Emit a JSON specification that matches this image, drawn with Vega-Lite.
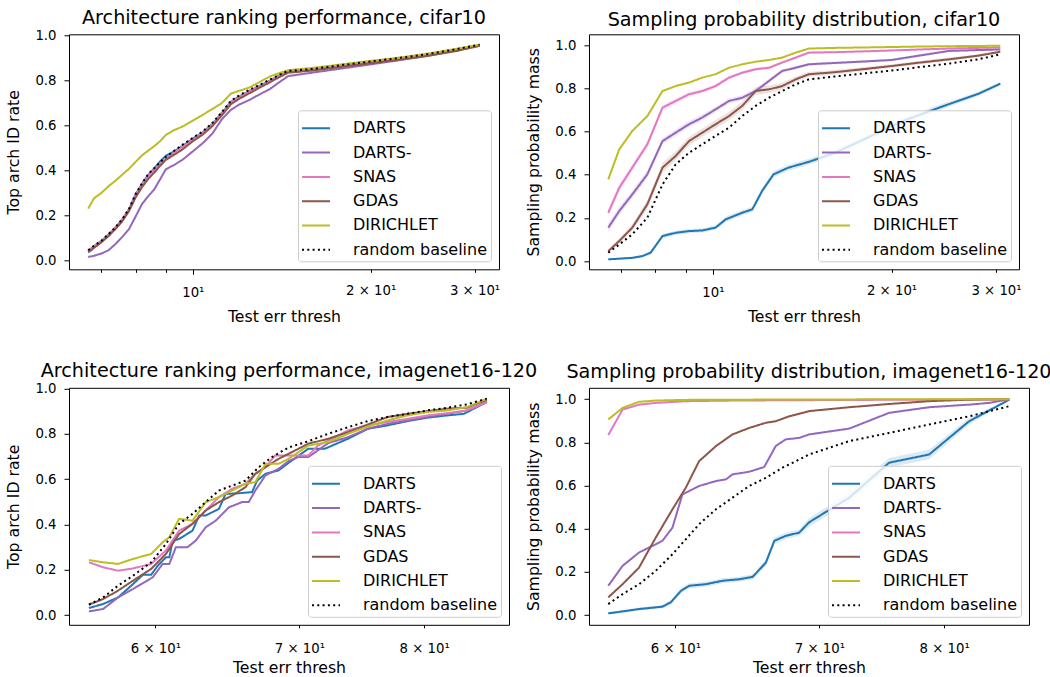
{
"$schema": "https://vega.github.io/schema/vega-lite/v6.json",
"padding": {"left": 5, "top": 8.3, "right": -2, "bottom": 0},
"background": "white",
"datasets": {
"tl": [
{"m":"DARTS","x":6.65,"y":0.042},{"m":"DARTS","x":6.8,"y":0.063},{"m":"DARTS","x":7.0,"y":0.086},{"m":"DARTS","x":7.2,"y":0.115},{"m":"DARTS","x":7.4,"y":0.146},{"m":"DARTS","x":7.6,"y":0.183},{"m":"DARTS","x":7.8,"y":0.228},{"m":"DARTS","x":8.0,"y":0.293},{"m":"DARTS","x":8.2,"y":0.34},{"m":"DARTS","x":8.4,"y":0.38},{"m":"DARTS","x":8.6,"y":0.408},{"m":"DARTS","x":8.8,"y":0.44},{"m":"DARTS","x":9.0,"y":0.465},{"m":"DARTS","x":9.3,"y":0.485},{"m":"DARTS","x":9.6,"y":0.508},{"m":"DARTS","x":10.0,"y":0.542},{"m":"DARTS","x":10.4,"y":0.57},{"m":"DARTS","x":10.8,"y":0.608},{"m":"DARTS","x":11.2,"y":0.656},{"m":"DARTS","x":11.6,"y":0.706},{"m":"DARTS","x":12.0,"y":0.73},{"m":"DARTS","x":12.5,"y":0.755},{"m":"DARTS","x":13.0,"y":0.778},{"m":"DARTS","x":13.5,"y":0.8},{"m":"DARTS","x":14.0,"y":0.822},{"m":"DARTS","x":14.5,"y":0.84},{"m":"DARTS","x":16,"y":0.85},{"m":"DARTS","x":18,"y":0.867},{"m":"DARTS","x":20,"y":0.882},{"m":"DARTS","x":22,"y":0.895},{"m":"DARTS","x":25,"y":0.915},{"m":"DARTS","x":28,"y":0.937},{"m":"DARTS","x":30.6,"y":0.958},
{"m":"DARTS-","x":6.65,"y":0.015},{"m":"DARTS-","x":6.8,"y":0.02},{"m":"DARTS-","x":7.0,"y":0.03},{"m":"DARTS-","x":7.2,"y":0.045},{"m":"DARTS-","x":7.4,"y":0.073},{"m":"DARTS-","x":7.6,"y":0.105},{"m":"DARTS-","x":7.8,"y":0.14},{"m":"DARTS-","x":8.0,"y":0.195},{"m":"DARTS-","x":8.2,"y":0.25},{"m":"DARTS-","x":8.4,"y":0.285},{"m":"DARTS-","x":8.6,"y":0.315},{"m":"DARTS-","x":8.8,"y":0.36},{"m":"DARTS-","x":9.0,"y":0.405},{"m":"DARTS-","x":9.3,"y":0.425},{"m":"DARTS-","x":9.6,"y":0.447},{"m":"DARTS-","x":10.0,"y":0.485},{"m":"DARTS-","x":10.4,"y":0.522},{"m":"DARTS-","x":10.8,"y":0.565},{"m":"DARTS-","x":11.2,"y":0.628},{"m":"DARTS-","x":11.6,"y":0.67},{"m":"DARTS-","x":12.0,"y":0.694},{"m":"DARTS-","x":12.5,"y":0.715},{"m":"DARTS-","x":13.0,"y":0.74},{"m":"DARTS-","x":13.5,"y":0.762},{"m":"DARTS-","x":14.0,"y":0.792},{"m":"DARTS-","x":14.5,"y":0.82},{"m":"DARTS-","x":16,"y":0.836},{"m":"DARTS-","x":18,"y":0.855},{"m":"DARTS-","x":20,"y":0.872},{"m":"DARTS-","x":22,"y":0.888},{"m":"DARTS-","x":25,"y":0.91},{"m":"DARTS-","x":28,"y":0.935},{"m":"DARTS-","x":30.6,"y":0.955},
{"m":"SNAS","x":6.65,"y":0.04},{"m":"SNAS","x":6.8,"y":0.062},{"m":"SNAS","x":7.0,"y":0.085},{"m":"SNAS","x":7.2,"y":0.113},{"m":"SNAS","x":7.4,"y":0.145},{"m":"SNAS","x":7.6,"y":0.182},{"m":"SNAS","x":7.8,"y":0.226},{"m":"SNAS","x":8.0,"y":0.29},{"m":"SNAS","x":8.2,"y":0.336},{"m":"SNAS","x":8.4,"y":0.375},{"m":"SNAS","x":8.6,"y":0.402},{"m":"SNAS","x":8.8,"y":0.428},{"m":"SNAS","x":9.0,"y":0.452},{"m":"SNAS","x":9.3,"y":0.48},{"m":"SNAS","x":9.6,"y":0.505},{"m":"SNAS","x":10.0,"y":0.538},{"m":"SNAS","x":10.4,"y":0.567},{"m":"SNAS","x":10.8,"y":0.605},{"m":"SNAS","x":11.2,"y":0.653},{"m":"SNAS","x":11.6,"y":0.703},{"m":"SNAS","x":12.0,"y":0.728},{"m":"SNAS","x":12.5,"y":0.753},{"m":"SNAS","x":13.0,"y":0.776},{"m":"SNAS","x":13.5,"y":0.798},{"m":"SNAS","x":14.0,"y":0.82},{"m":"SNAS","x":14.5,"y":0.838},{"m":"SNAS","x":16,"y":0.848},{"m":"SNAS","x":18,"y":0.865},{"m":"SNAS","x":20,"y":0.88},{"m":"SNAS","x":22,"y":0.893},{"m":"SNAS","x":25,"y":0.913},{"m":"SNAS","x":28,"y":0.935},{"m":"SNAS","x":30.6,"y":0.957},
{"m":"GDAS","x":6.65,"y":0.035},{"m":"GDAS","x":6.8,"y":0.055},{"m":"GDAS","x":7.0,"y":0.08},{"m":"GDAS","x":7.2,"y":0.108},{"m":"GDAS","x":7.4,"y":0.14},{"m":"GDAS","x":7.6,"y":0.175},{"m":"GDAS","x":7.8,"y":0.22},{"m":"GDAS","x":8.0,"y":0.28},{"m":"GDAS","x":8.2,"y":0.325},{"m":"GDAS","x":8.4,"y":0.362},{"m":"GDAS","x":8.6,"y":0.39},{"m":"GDAS","x":8.8,"y":0.42},{"m":"GDAS","x":9.0,"y":0.447},{"m":"GDAS","x":9.3,"y":0.47},{"m":"GDAS","x":9.6,"y":0.493},{"m":"GDAS","x":10.0,"y":0.53},{"m":"GDAS","x":10.4,"y":0.56},{"m":"GDAS","x":10.8,"y":0.598},{"m":"GDAS","x":11.2,"y":0.645},{"m":"GDAS","x":11.6,"y":0.695},{"m":"GDAS","x":12.0,"y":0.72},{"m":"GDAS","x":12.5,"y":0.745},{"m":"GDAS","x":13.0,"y":0.77},{"m":"GDAS","x":13.5,"y":0.792},{"m":"GDAS","x":14.0,"y":0.815},{"m":"GDAS","x":14.5,"y":0.835},{"m":"GDAS","x":16,"y":0.845},{"m":"GDAS","x":18,"y":0.862},{"m":"GDAS","x":20,"y":0.877},{"m":"GDAS","x":22,"y":0.89},{"m":"GDAS","x":25,"y":0.91},{"m":"GDAS","x":28,"y":0.932},{"m":"GDAS","x":30.6,"y":0.955},
{"m":"DIRICHLET","x":6.65,"y":0.23},{"m":"DIRICHLET","x":6.8,"y":0.276},{"m":"DIRICHLET","x":7.0,"y":0.3},{"m":"DIRICHLET","x":7.2,"y":0.33},{"m":"DIRICHLET","x":7.4,"y":0.355},{"m":"DIRICHLET","x":7.6,"y":0.382},{"m":"DIRICHLET","x":7.8,"y":0.408},{"m":"DIRICHLET","x":8.0,"y":0.438},{"m":"DIRICHLET","x":8.2,"y":0.467},{"m":"DIRICHLET","x":8.4,"y":0.488},{"m":"DIRICHLET","x":8.6,"y":0.508},{"m":"DIRICHLET","x":8.8,"y":0.53},{"m":"DIRICHLET","x":9.0,"y":0.558},{"m":"DIRICHLET","x":9.3,"y":0.58},{"m":"DIRICHLET","x":9.6,"y":0.595},{"m":"DIRICHLET","x":10.0,"y":0.622},{"m":"DIRICHLET","x":10.4,"y":0.648},{"m":"DIRICHLET","x":10.8,"y":0.674},{"m":"DIRICHLET","x":11.2,"y":0.7},{"m":"DIRICHLET","x":11.6,"y":0.742},{"m":"DIRICHLET","x":12.0,"y":0.755},{"m":"DIRICHLET","x":12.5,"y":0.77},{"m":"DIRICHLET","x":13.0,"y":0.795},{"m":"DIRICHLET","x":13.5,"y":0.818},{"m":"DIRICHLET","x":14.0,"y":0.833},{"m":"DIRICHLET","x":14.5,"y":0.846},{"m":"DIRICHLET","x":16,"y":0.857},{"m":"DIRICHLET","x":18,"y":0.873},{"m":"DIRICHLET","x":20,"y":0.888},{"m":"DIRICHLET","x":22,"y":0.9},{"m":"DIRICHLET","x":25,"y":0.92},{"m":"DIRICHLET","x":28,"y":0.942},{"m":"DIRICHLET","x":30.6,"y":0.96},
{"m":"random baseline","x":6.65,"y":0.045},{"m":"random baseline","x":6.8,"y":0.065},{"m":"random baseline","x":7.0,"y":0.087},{"m":"random baseline","x":7.2,"y":0.117},{"m":"random baseline","x":7.4,"y":0.148},{"m":"random baseline","x":7.6,"y":0.185},{"m":"random baseline","x":7.8,"y":0.23},{"m":"random baseline","x":8.0,"y":0.295},{"m":"random baseline","x":8.2,"y":0.342},{"m":"random baseline","x":8.4,"y":0.383},{"m":"random baseline","x":8.6,"y":0.41},{"m":"random baseline","x":8.8,"y":0.436},{"m":"random baseline","x":9.0,"y":0.46},{"m":"random baseline","x":9.3,"y":0.488},{"m":"random baseline","x":9.6,"y":0.514},{"m":"random baseline","x":10.0,"y":0.545},{"m":"random baseline","x":10.4,"y":0.574},{"m":"random baseline","x":10.8,"y":0.612},{"m":"random baseline","x":11.2,"y":0.66},{"m":"random baseline","x":11.6,"y":0.71},{"m":"random baseline","x":12.0,"y":0.735},{"m":"random baseline","x":12.5,"y":0.76},{"m":"random baseline","x":13.0,"y":0.782},{"m":"random baseline","x":13.5,"y":0.804},{"m":"random baseline","x":14.0,"y":0.825},{"m":"random baseline","x":14.5,"y":0.843},{"m":"random baseline","x":16,"y":0.852},{"m":"random baseline","x":18,"y":0.87},{"m":"random baseline","x":20,"y":0.885},{"m":"random baseline","x":22,"y":0.898},{"m":"random baseline","x":25,"y":0.918},{"m":"random baseline","x":28,"y":0.94},{"m":"random baseline","x":30.6,"y":0.96}
],
"tr": [
{"m":"DARTS","x":6.66,"y":0.008,"lo":0.004,"hi":0.012},{"m":"DARTS","x":7.31,"y":0.015,"lo":0.01,"hi":0.02},{"m":"DARTS","x":7.6,"y":0.023,"lo":0.017,"hi":0.029},{"m":"DARTS","x":7.85,"y":0.039,"lo":0.031,"hi":0.047},{"m":"DARTS","x":8.22,"y":0.116,"lo":0.106,"hi":0.126},{"m":"DARTS","x":8.65,"y":0.131,"lo":0.121,"hi":0.141},{"m":"DARTS","x":9.11,"y":0.139,"lo":0.129,"hi":0.149},{"m":"DARTS","x":9.59,"y":0.142,"lo":0.132,"hi":0.152},{"m":"DARTS","x":10.1,"y":0.155,"lo":0.145,"hi":0.165},{"m":"DARTS","x":10.5,"y":0.193,"lo":0.181,"hi":0.205},{"m":"DARTS","x":11.2,"y":0.224,"lo":0.212,"hi":0.236},{"m":"DARTS","x":11.65,"y":0.24,"lo":0.228,"hi":0.252},{"m":"DARTS","x":12.1,"y":0.325,"lo":0.311,"hi":0.339},{"m":"DARTS","x":12.65,"y":0.402,"lo":0.388,"hi":0.416},{"m":"DARTS","x":13.4,"y":0.433,"lo":0.419,"hi":0.447},{"m":"DARTS","x":14.51,"y":0.46,"lo":0.446,"hi":0.474},{"m":"DARTS","x":16,"y":0.5,"lo":0.486,"hi":0.514},{"m":"DARTS","x":18,"y":0.565,"lo":0.551,"hi":0.579},{"m":"DARTS","x":20.7,"y":0.645,"lo":0.631,"hi":0.659},{"m":"DARTS","x":24.5,"y":0.719,"lo":0.707,"hi":0.731},{"m":"DARTS","x":28,"y":0.775,"lo":0.765,"hi":0.785},{"m":"DARTS","x":30.5,"y":0.822,"lo":0.814,"hi":0.83},
{"m":"DARTS-","x":6.66,"y":0.155,"lo":0.135,"hi":0.175},{"m":"DARTS-","x":6.95,"y":0.232,"lo":0.212,"hi":0.252},{"m":"DARTS-","x":7.31,"y":0.309,"lo":0.291,"hi":0.327},{"m":"DARTS-","x":7.75,"y":0.402,"lo":0.384,"hi":0.42},{"m":"DARTS-","x":8.22,"y":0.556,"lo":0.541,"hi":0.571},{"m":"DARTS-","x":8.65,"y":0.595,"lo":0.58,"hi":0.61},{"m":"DARTS-","x":9.11,"y":0.634,"lo":0.619,"hi":0.649},{"m":"DARTS-","x":9.59,"y":0.665,"lo":0.65,"hi":0.68},{"m":"DARTS-","x":10.1,"y":0.703,"lo":0.691,"hi":0.715},{"m":"DARTS-","x":10.64,"y":0.742,"lo":0.73,"hi":0.754},{"m":"DARTS-","x":11.2,"y":0.757,"lo":0.745,"hi":0.769},{"m":"DARTS-","x":11.8,"y":0.788,"lo":0.776,"hi":0.8},{"m":"DARTS-","x":12.43,"y":0.835,"lo":0.825,"hi":0.845},{"m":"DARTS-","x":13.08,"y":0.881,"lo":0.873,"hi":0.889},{"m":"DARTS-","x":13.78,"y":0.896,"lo":0.888,"hi":0.904},{"m":"DARTS-","x":14.51,"y":0.912,"lo":0.906,"hi":0.918},{"m":"DARTS-","x":16,"y":0.918,"lo":0.912,"hi":0.924},{"m":"DARTS-","x":18,"y":0.925,"lo":0.919,"hi":0.931},{"m":"DARTS-","x":20,"y":0.932,"lo":0.926,"hi":0.938},{"m":"DARTS-","x":22,"y":0.95,"lo":0.944,"hi":0.956},{"m":"DARTS-","x":25,"y":0.974,"lo":0.969,"hi":0.979},{"m":"DARTS-","x":28,"y":0.978,"lo":0.973,"hi":0.983},{"m":"DARTS-","x":30.5,"y":0.981,"lo":0.976,"hi":0.986},
{"m":"SNAS","x":6.66,"y":0.224,"lo":0.204,"hi":0.244},{"m":"SNAS","x":6.95,"y":0.34,"lo":0.32,"hi":0.36},{"m":"SNAS","x":7.31,"y":0.433,"lo":0.415,"hi":0.451},{"m":"SNAS","x":7.75,"y":0.541,"lo":0.525,"hi":0.557},{"m":"SNAS","x":8.22,"y":0.711,"lo":0.697,"hi":0.725},{"m":"SNAS","x":8.65,"y":0.742,"lo":0.73,"hi":0.754},{"m":"SNAS","x":9.11,"y":0.773,"lo":0.761,"hi":0.785},{"m":"SNAS","x":9.59,"y":0.788,"lo":0.778,"hi":0.798},{"m":"SNAS","x":10.1,"y":0.811,"lo":0.801,"hi":0.821},{"m":"SNAS","x":10.64,"y":0.85,"lo":0.84,"hi":0.86},{"m":"SNAS","x":11.2,"y":0.873,"lo":0.865,"hi":0.881},{"m":"SNAS","x":11.8,"y":0.889,"lo":0.881,"hi":0.897},{"m":"SNAS","x":12.43,"y":0.896,"lo":0.888,"hi":0.904},{"m":"SNAS","x":13.08,"y":0.92,"lo":0.914,"hi":0.926},{"m":"SNAS","x":13.78,"y":0.943,"lo":0.937,"hi":0.949},{"m":"SNAS","x":14.51,"y":0.966,"lo":0.961,"hi":0.971},{"m":"SNAS","x":16,"y":0.968,"lo":0.964,"hi":0.972},{"m":"SNAS","x":18,"y":0.972,"lo":0.968,"hi":0.976},{"m":"SNAS","x":20,"y":0.976,"lo":0.972,"hi":0.98},{"m":"SNAS","x":22,"y":0.98,"lo":0.976,"hi":0.984},{"m":"SNAS","x":25,"y":0.985,"lo":0.981,"hi":0.989},{"m":"SNAS","x":28,"y":0.988,"lo":0.984,"hi":0.992},{"m":"SNAS","x":30.5,"y":0.99,"lo":0.987,"hi":0.993},
{"m":"GDAS","x":6.66,"y":0.046,"lo":0.038,"hi":0.054},{"m":"GDAS","x":6.95,"y":0.093,"lo":0.081,"hi":0.105},{"m":"GDAS","x":7.31,"y":0.155,"lo":0.139,"hi":0.171},{"m":"GDAS","x":7.75,"y":0.263,"lo":0.243,"hi":0.283},{"m":"GDAS","x":8.22,"y":0.433,"lo":0.411,"hi":0.455},{"m":"GDAS","x":8.65,"y":0.487,"lo":0.465,"hi":0.509},{"m":"GDAS","x":9.11,"y":0.556,"lo":0.536,"hi":0.576},{"m":"GDAS","x":9.59,"y":0.595,"lo":0.575,"hi":0.615},{"m":"GDAS","x":10.1,"y":0.634,"lo":0.614,"hi":0.654},{"m":"GDAS","x":10.64,"y":0.672,"lo":0.652,"hi":0.692},{"m":"GDAS","x":11.2,"y":0.719,"lo":0.699,"hi":0.739},{"m":"GDAS","x":11.8,"y":0.788,"lo":0.77,"hi":0.806},{"m":"GDAS","x":12.43,"y":0.796,"lo":0.778,"hi":0.814},{"m":"GDAS","x":13.08,"y":0.811,"lo":0.795,"hi":0.827},{"m":"GDAS","x":13.78,"y":0.842,"lo":0.828,"hi":0.856},{"m":"GDAS","x":14.51,"y":0.866,"lo":0.854,"hi":0.878},{"m":"GDAS","x":16,"y":0.875,"lo":0.865,"hi":0.885},{"m":"GDAS","x":18,"y":0.89,"lo":0.88,"hi":0.9},{"m":"GDAS","x":20,"y":0.904,"lo":0.896,"hi":0.912},{"m":"GDAS","x":22,"y":0.918,"lo":0.91,"hi":0.926},{"m":"GDAS","x":25,"y":0.935,"lo":0.927,"hi":0.943},{"m":"GDAS","x":28,"y":0.952,"lo":0.946,"hi":0.958},{"m":"GDAS","x":30.5,"y":0.97,"lo":0.965,"hi":0.975},
{"m":"DIRICHLET","x":6.66,"y":0.379},{"m":"DIRICHLET","x":6.95,"y":0.518},{"m":"DIRICHLET","x":7.31,"y":0.603},{"m":"DIRICHLET","x":7.75,"y":0.672},{"m":"DIRICHLET","x":8.22,"y":0.788},{"m":"DIRICHLET","x":8.65,"y":0.811},{"m":"DIRICHLET","x":9.11,"y":0.827},{"m":"DIRICHLET","x":9.59,"y":0.85},{"m":"DIRICHLET","x":10.1,"y":0.866},{"m":"DIRICHLET","x":10.64,"y":0.896},{"m":"DIRICHLET","x":11.2,"y":0.912},{"m":"DIRICHLET","x":11.8,"y":0.924},{"m":"DIRICHLET","x":12.43,"y":0.932},{"m":"DIRICHLET","x":13.08,"y":0.943},{"m":"DIRICHLET","x":13.78,"y":0.966},{"m":"DIRICHLET","x":14.51,"y":0.985},{"m":"DIRICHLET","x":16,"y":0.988},{"m":"DIRICHLET","x":18,"y":0.99},{"m":"DIRICHLET","x":20,"y":0.992},{"m":"DIRICHLET","x":22,"y":0.994},{"m":"DIRICHLET","x":25,"y":0.996},{"m":"DIRICHLET","x":28,"y":0.997},{"m":"DIRICHLET","x":30.5,"y":0.998},
{"m":"random baseline","x":6.66,"y":0.039},{"m":"random baseline","x":6.95,"y":0.077},{"m":"random baseline","x":7.31,"y":0.124},{"m":"random baseline","x":7.75,"y":0.201},{"m":"random baseline","x":8.22,"y":0.355},{"m":"random baseline","x":8.65,"y":0.448},{"m":"random baseline","x":9.11,"y":0.502},{"m":"random baseline","x":9.59,"y":0.541},{"m":"random baseline","x":10.1,"y":0.58},{"m":"random baseline","x":10.64,"y":0.618},{"m":"random baseline","x":11.2,"y":0.672},{"m":"random baseline","x":11.8,"y":0.719},{"m":"random baseline","x":12.43,"y":0.757},{"m":"random baseline","x":13.08,"y":0.788},{"m":"random baseline","x":13.78,"y":0.819},{"m":"random baseline","x":14.51,"y":0.842},{"m":"random baseline","x":16,"y":0.855},{"m":"random baseline","x":18,"y":0.87},{"m":"random baseline","x":20,"y":0.883},{"m":"random baseline","x":22,"y":0.897},{"m":"random baseline","x":25,"y":0.915},{"m":"random baseline","x":28,"y":0.935},{"m":"random baseline","x":30.5,"y":0.958}
],
"bl": [
{"m":"DARTS","x":55.88,"y":0.031},{"m":"DARTS","x":56.74,"y":0.049},{"m":"DARTS","x":57.65,"y":0.078},{"m":"DARTS","x":58.58,"y":0.137},{"m":"DARTS","x":59.2,"y":0.178},{"m":"DARTS","x":59.73,"y":0.178},{"m":"DARTS","x":60.15,"y":0.218},{"m":"DARTS","x":60.68,"y":0.255},{"m":"DARTS","x":60.9,"y":0.255},{"m":"DARTS","x":61.12,"y":0.329},{"m":"DARTS","x":61.54,"y":0.336},{"m":"DARTS","x":62.43,"y":0.373},{"m":"DARTS","x":62.88,"y":0.44},{"m":"DARTS","x":63.32,"y":0.44},{"m":"DARTS","x":64.22,"y":0.469},{"m":"DARTS","x":64.68,"y":0.535},{"m":"DARTS","x":65.6,"y":0.538},{"m":"DARTS","x":66.54,"y":0.543},{"m":"DARTS","x":66.9,"y":0.594},{"m":"DARTS","x":67.5,"y":0.624},{"m":"DARTS","x":68.45,"y":0.639},{"m":"DARTS","x":69.18,"y":0.672},{"m":"DARTS","x":70.67,"y":0.735},{"m":"DARTS","x":71.94,"y":0.735},{"m":"DARTS","x":73.74,"y":0.779},{"m":"DARTS","x":75.32,"y":0.823},{"m":"DARTS","x":76.93,"y":0.838},{"m":"DARTS","x":78.6,"y":0.857},{"m":"DARTS","x":80.28,"y":0.872},{"m":"DARTS","x":82.0,"y":0.882},{"m":"DARTS","x":83.47,"y":0.889},{"m":"DARTS","x":84.65,"y":0.919},{"m":"DARTS","x":85.55,"y":0.941},
{"m":"DARTS-","x":55.88,"y":0.016},{"m":"DARTS-","x":56.74,"y":0.027},{"m":"DARTS-","x":57.65,"y":0.078},{"m":"DARTS-","x":58.58,"y":0.115},{"m":"DARTS-","x":59.3,"y":0.145},{"m":"DARTS-","x":59.83,"y":0.167},{"m":"DARTS-","x":60.47,"y":0.226},{"m":"DARTS-","x":60.9,"y":0.226},{"m":"DARTS-","x":61.33,"y":0.3},{"m":"DARTS-","x":62.1,"y":0.3},{"m":"DARTS-","x":62.65,"y":0.329},{"m":"DARTS-","x":63.32,"y":0.388},{"m":"DARTS-","x":64.0,"y":0.417},{"m":"DARTS-","x":64.91,"y":0.476},{"m":"DARTS-","x":65.83,"y":0.499},{"m":"DARTS-","x":66.3,"y":0.499},{"m":"DARTS-","x":66.77,"y":0.55},{"m":"DARTS-","x":67.5,"y":0.617},{"m":"DARTS-","x":68.45,"y":0.646},{"m":"DARTS-","x":69.18,"y":0.68},{"m":"DARTS-","x":69.9,"y":0.698},{"m":"DARTS-","x":70.67,"y":0.698},{"m":"DARTS-","x":72.2,"y":0.76},{"m":"DARTS-","x":73.74,"y":0.786},{"m":"DARTS-","x":75.32,"y":0.823},{"m":"DARTS-","x":76.93,"y":0.845},{"m":"DARTS-","x":78.6,"y":0.86},{"m":"DARTS-","x":80.28,"y":0.875},{"m":"DARTS-","x":82.0,"y":0.889},{"m":"DARTS-","x":83.76,"y":0.904},{"m":"DARTS-","x":85.55,"y":0.941},
{"m":"SNAS","x":55.88,"y":0.233},{"m":"SNAS","x":56.74,"y":0.211},{"m":"SNAS","x":57.65,"y":0.196},{"m":"SNAS","x":58.58,"y":0.206},{"m":"SNAS","x":59.73,"y":0.226},{"m":"SNAS","x":60.68,"y":0.285},{"m":"SNAS","x":61.54,"y":0.373},{"m":"SNAS","x":62.43,"y":0.403},{"m":"SNAS","x":63.32,"y":0.462},{"m":"SNAS","x":64.22,"y":0.521},{"m":"SNAS","x":65.14,"y":0.558},{"m":"SNAS","x":66.07,"y":0.58},{"m":"SNAS","x":66.77,"y":0.624},{"m":"SNAS","x":67.5,"y":0.653},{"m":"SNAS","x":68.2,"y":0.705},{"m":"SNAS","x":69.18,"y":0.705},{"m":"SNAS","x":70.67,"y":0.705},{"m":"SNAS","x":71.4,"y":0.749},{"m":"SNAS","x":72.2,"y":0.771},{"m":"SNAS","x":73.74,"y":0.816},{"m":"SNAS","x":75.32,"y":0.838},{"m":"SNAS","x":76.93,"y":0.853},{"m":"SNAS","x":78.6,"y":0.867},{"m":"SNAS","x":80.28,"y":0.882},{"m":"SNAS","x":82.0,"y":0.892},{"m":"SNAS","x":83.76,"y":0.904},{"m":"SNAS","x":85.55,"y":0.941},
{"m":"GDAS","x":55.88,"y":0.046},{"m":"GDAS","x":56.74,"y":0.071},{"m":"GDAS","x":57.65,"y":0.108},{"m":"GDAS","x":58.58,"y":0.152},{"m":"GDAS","x":59.73,"y":0.204},{"m":"GDAS","x":60.68,"y":0.27},{"m":"GDAS","x":61.54,"y":0.358},{"m":"GDAS","x":62.43,"y":0.403},{"m":"GDAS","x":63.32,"y":0.462},{"m":"GDAS","x":64.22,"y":0.499},{"m":"GDAS","x":65.14,"y":0.528},{"m":"GDAS","x":66.07,"y":0.565},{"m":"GDAS","x":66.77,"y":0.624},{"m":"GDAS","x":67.5,"y":0.653},{"m":"GDAS","x":68.45,"y":0.69},{"m":"GDAS","x":69.18,"y":0.712},{"m":"GDAS","x":70.67,"y":0.757},{"m":"GDAS","x":72.2,"y":0.779},{"m":"GDAS","x":73.74,"y":0.808},{"m":"GDAS","x":75.32,"y":0.842},{"m":"GDAS","x":76.93,"y":0.875},{"m":"GDAS","x":78.6,"y":0.889},{"m":"GDAS","x":80.28,"y":0.901},{"m":"GDAS","x":82.0,"y":0.912},{"m":"GDAS","x":83.76,"y":0.916},{"m":"GDAS","x":85.55,"y":0.951},
{"m":"DIRICHLET","x":55.88,"y":0.243},{"m":"DIRICHLET","x":56.74,"y":0.233},{"m":"DIRICHLET","x":57.65,"y":0.226},{"m":"DIRICHLET","x":58.58,"y":0.248},{"m":"DIRICHLET","x":59.73,"y":0.27},{"m":"DIRICHLET","x":60.47,"y":0.322},{"m":"DIRICHLET","x":60.9,"y":0.344},{"m":"DIRICHLET","x":61.54,"y":0.425},{"m":"DIRICHLET","x":62.43,"y":0.417},{"m":"DIRICHLET","x":63.32,"y":0.499},{"m":"DIRICHLET","x":64.22,"y":0.521},{"m":"DIRICHLET","x":65.14,"y":0.55},{"m":"DIRICHLET","x":66.07,"y":0.58},{"m":"DIRICHLET","x":66.77,"y":0.587},{"m":"DIRICHLET","x":67.5,"y":0.668},{"m":"DIRICHLET","x":68.45,"y":0.668},{"m":"DIRICHLET","x":69.18,"y":0.69},{"m":"DIRICHLET","x":70.67,"y":0.749},{"m":"DIRICHLET","x":72.2,"y":0.764},{"m":"DIRICHLET","x":73.74,"y":0.801},{"m":"DIRICHLET","x":75.32,"y":0.833},{"m":"DIRICHLET","x":76.93,"y":0.86},{"m":"DIRICHLET","x":78.6,"y":0.882},{"m":"DIRICHLET","x":80.28,"y":0.897},{"m":"DIRICHLET","x":82.0,"y":0.904},{"m":"DIRICHLET","x":83.76,"y":0.919},{"m":"DIRICHLET","x":85.55,"y":0.956},
{"m":"random baseline","x":55.88,"y":0.046},{"m":"random baseline","x":56.74,"y":0.078},{"m":"random baseline","x":57.65,"y":0.13},{"m":"random baseline","x":58.58,"y":0.174},{"m":"random baseline","x":59.73,"y":0.233},{"m":"random baseline","x":60.68,"y":0.314},{"m":"random baseline","x":61.54,"y":0.403},{"m":"random baseline","x":62.43,"y":0.447},{"m":"random baseline","x":63.32,"y":0.499},{"m":"random baseline","x":64.22,"y":0.55},{"m":"random baseline","x":65.14,"y":0.572},{"m":"random baseline","x":66.07,"y":0.594},{"m":"random baseline","x":67.01,"y":0.653},{"m":"random baseline","x":67.97,"y":0.698},{"m":"random baseline","x":69.18,"y":0.74},{"m":"random baseline","x":70.67,"y":0.768},{"m":"random baseline","x":72.2,"y":0.801},{"m":"random baseline","x":73.74,"y":0.83},{"m":"random baseline","x":75.32,"y":0.857},{"m":"random baseline","x":76.93,"y":0.875},{"m":"random baseline","x":78.6,"y":0.889},{"m":"random baseline","x":80.28,"y":0.904},{"m":"random baseline","x":82.0,"y":0.916},{"m":"random baseline","x":83.76,"y":0.931},{"m":"random baseline","x":85.55,"y":0.956}
],
"br": [
{"m":"DARTS","x":55.84,"y":0.008,"lo":0.003,"hi":0.013},{"m":"DARTS","x":56.7,"y":0.017,"lo":0.011,"hi":0.023},{"m":"DARTS","x":57.71,"y":0.028,"lo":0.021,"hi":0.035},{"m":"DARTS","x":59.17,"y":0.039,"lo":0.031,"hi":0.047},{"m":"DARTS","x":59.7,"y":0.059,"lo":0.049,"hi":0.069},{"m":"DARTS","x":60.35,"y":0.112,"lo":0.1,"hi":0.124},{"m":"DARTS","x":60.9,"y":0.136,"lo":0.124,"hi":0.148},{"m":"DARTS","x":61.98,"y":0.143,"lo":0.131,"hi":0.155},{"m":"DARTS","x":63.1,"y":0.159,"lo":0.147,"hi":0.171},{"m":"DARTS","x":64.24,"y":0.166,"lo":0.154,"hi":0.178},{"m":"DARTS","x":65.17,"y":0.177,"lo":0.165,"hi":0.189},{"m":"DARTS","x":66.1,"y":0.243,"lo":0.228,"hi":0.258},{"m":"DARTS","x":66.7,"y":0.344,"lo":0.329,"hi":0.359},{"m":"DARTS","x":67.52,"y":0.367,"lo":0.352,"hi":0.382},{"m":"DARTS","x":68.5,"y":0.382,"lo":0.367,"hi":0.397},{"m":"DARTS","x":69.23,"y":0.43,"lo":0.41,"hi":0.45},{"m":"DARTS","x":72.27,"y":0.544,"lo":0.522,"hi":0.566},{"m":"DARTS","x":75.42,"y":0.706,"lo":0.684,"hi":0.728},{"m":"DARTS","x":78.72,"y":0.744,"lo":0.722,"hi":0.766},{"m":"DARTS","x":82.16,"y":0.898,"lo":0.883,"hi":0.913},{"m":"DARTS","x":85.77,"y":0.998,"lo":0.994,"hi":1.002},
{"m":"DARTS-","x":55.84,"y":0.136},{"m":"DARTS-","x":56.7,"y":0.228},{"m":"DARTS-","x":57.71,"y":0.29},{"m":"DARTS-","x":58.75,"y":0.328},{"m":"DARTS-","x":59.17,"y":0.344},{"m":"DARTS-","x":59.81,"y":0.405},{"m":"DARTS-","x":60.45,"y":0.559},{"m":"DARTS-","x":60.9,"y":0.575},{"m":"DARTS-","x":61.54,"y":0.598},{"m":"DARTS-","x":62.66,"y":0.621},{"m":"DARTS-","x":63.34,"y":0.629},{"m":"DARTS-","x":63.78,"y":0.652},{"m":"DARTS-","x":64.93,"y":0.664},{"m":"DARTS-","x":65.98,"y":0.686},{"m":"DARTS-","x":66.8,"y":0.783},{"m":"DARTS-","x":67.52,"y":0.814},{"m":"DARTS-","x":68.5,"y":0.821},{"m":"DARTS-","x":69.23,"y":0.837},{"m":"DARTS-","x":72.27,"y":0.864},{"m":"DARTS-","x":75.42,"y":0.937},{"m":"DARTS-","x":78.72,"y":0.963},{"m":"DARTS-","x":82.16,"y":0.975},{"m":"DARTS-","x":83.95,"y":0.983},{"m":"DARTS-","x":85.77,"y":1.0},
{"m":"SNAS","x":55.84,"y":0.834},{"m":"SNAS","x":56.7,"y":0.952},{"m":"SNAS","x":57.71,"y":0.975},{"m":"SNAS","x":58.75,"y":0.983},{"m":"SNAS","x":60.67,"y":0.991},{"m":"SNAS","x":64,"y":0.994},{"m":"SNAS","x":70,"y":0.996},{"m":"SNAS","x":78,"y":0.998},{"m":"SNAS","x":85.77,"y":1.0},
{"m":"GDAS","x":55.84,"y":0.082},{"m":"GDAS","x":56.7,"y":0.143},{"m":"GDAS","x":57.71,"y":0.22},{"m":"GDAS","x":58.75,"y":0.359},{"m":"GDAS","x":59.81,"y":0.49},{"m":"GDAS","x":60.67,"y":0.59},{"m":"GDAS","x":61.54,"y":0.713},{"m":"GDAS","x":62.66,"y":0.783},{"m":"GDAS","x":63.78,"y":0.837},{"m":"GDAS","x":64.93,"y":0.867},{"m":"GDAS","x":66.1,"y":0.891},{"m":"GDAS","x":66.8,"y":0.898},{"m":"GDAS","x":67.77,"y":0.921},{"m":"GDAS","x":69.23,"y":0.945},{"m":"GDAS","x":72.27,"y":0.963},{"m":"GDAS","x":75.42,"y":0.978},{"m":"GDAS","x":78.72,"y":0.991},{"m":"GDAS","x":82.16,"y":0.998},{"m":"GDAS","x":85.77,"y":1.0},
{"m":"DIRICHLET","x":55.84,"y":0.906},{"m":"DIRICHLET","x":56.7,"y":0.96},{"m":"DIRICHLET","x":57.71,"y":0.988},{"m":"DIRICHLET","x":58.75,"y":0.994},{"m":"DIRICHLET","x":60.67,"y":0.997},{"m":"DIRICHLET","x":64,"y":0.998},{"m":"DIRICHLET","x":70,"y":0.999},{"m":"DIRICHLET","x":78,"y":1.0},{"m":"DIRICHLET","x":85.77,"y":1.0},
{"m":"random baseline","x":55.84,"y":0.051},{"m":"random baseline","x":56.7,"y":0.097},{"m":"random baseline","x":57.71,"y":0.143},{"m":"random baseline","x":58.75,"y":0.205},{"m":"random baseline","x":59.81,"y":0.282},{"m":"random baseline","x":60.67,"y":0.351},{"m":"random baseline","x":61.54,"y":0.421},{"m":"random baseline","x":62.66,"y":0.49},{"m":"random baseline","x":63.78,"y":0.544},{"m":"random baseline","x":64.93,"y":0.598},{"m":"random baseline","x":66.1,"y":0.636},{"m":"random baseline","x":67.29,"y":0.683},{"m":"random baseline","x":68.26,"y":0.713},{"m":"random baseline","x":69.23,"y":0.744},{"m":"random baseline","x":72.27,"y":0.806},{"m":"random baseline","x":75.42,"y":0.844},{"m":"random baseline","x":78.72,"y":0.883},{"m":"random baseline","x":82.16,"y":0.921},{"m":"random baseline","x":85.77,"y":0.968}
]
},
"columns": 2,
"spacing": {"row": 118.5, "column": 80},
"bounds": "flush",
"resolve": {"scale": {"color": "independent", "strokeDash": "independent", "x": "independent", "y": "independent"}, "legend": {"color": "independent", "strokeDash": "independent"}},
"concat": [
{
"title": {"text": "Architecture ranking performance, cifar10", "frame": "group", "offset": 0.3},
"width": 430, "height": 235,
"data": {"name": "tl"},
"mark": {"type": "line", "strokeWidth": 2, "clip": true},
"encoding": {
"x": {"field": "x", "type": "quantitative", "scale": {"type": "log", "domain": [6.17, 33], "nice": false}, "axis": {"title": "Test err thresh", "values": [7, 8, 9, 10, 20, 30], "labelExpr": "datum.value == 10 ? '10¹' : datum.value == 20 ? '2 × 10¹' : datum.value == 30 ? '3 × 10¹' : ''", "tickSize": {"condition": {"test": "datum.value == 10", "value": 5}, "value": 3}, "labelPadding": 11, "titlePadding": 11}},
"y": {"field": "y", "type": "quantitative", "scale": {"domain": [-0.04, 1.006], "nice": false, "zero": false}, "axis": {"title": "Top arch ID rate", "values": [0, 0.2, 0.4, 0.6, 0.8, 1.0], "format": ".1f"}},
"color": {"field": "m", "type": "nominal", "title": null, "scale": {"domain": ["DARTS", "DARTS-", "SNAS", "GDAS", "DIRICHLET", "random baseline"], "range": ["#1f77b4", "#9467bd", "#e377c2", "#8c564b", "#bcbd22", "#000000"]}},
"strokeDash": {"field": "m", "type": "nominal", "title": null, "scale": {"domain": ["DARTS", "DARTS-", "SNAS", "GDAS", "DIRICHLET", "random baseline"], "range": [[1, 0], [1, 0], [1, 0], [1, 0], [1, 0], [2, 3.3]]}}
}
},
{
"title": {"text": "Sampling probability distribution, cifar10", "frame": "group", "offset": 4.5},
"width": 430, "height": 235,
"data": {"name": "tr"},
"encoding": {
"x": {"field": "x", "type": "quantitative", "scale": {"type": "log", "domain": [6.18, 32.8], "nice": false}, "axis": {"title": "Test err thresh", "values": [7, 8, 9, 10, 20, 30], "labelExpr": "datum.value == 10 ? '10¹' : datum.value == 20 ? '2 × 10¹' : datum.value == 30 ? '3 × 10¹' : ''", "tickSize": {"condition": {"test": "datum.value == 10", "value": 5}, "value": 3}, "labelPadding": 11, "titlePadding": 11}}
},
"layer": [
{"transform": [{"filter": "datum.m == 'DARTS' && isValid(datum.lo)"}], "mark": {"type": "area", "color": "#1f77b4", "opacity": 0.16, "clip": true}, "encoding": {"y": {"field": "lo", "type": "quantitative", "scale": {"domain": [-0.038, 1.051], "nice": false, "zero": false}, "axis": {"title": "Sampling probability mass", "values": [0, 0.2, 0.4, 0.6, 0.8, 1.0], "format": ".1f"}}, "y2": {"field": "hi"}}},
{"transform": [{"filter": "datum.m == 'DARTS-' && isValid(datum.lo)"}], "mark": {"type": "area", "color": "#9467bd", "opacity": 0.16, "clip": true}, "encoding": {"y": {"field": "lo", "type": "quantitative", "scale": {"domain": [-0.038, 1.051], "nice": false, "zero": false}, "axis": {"title": "Sampling probability mass", "values": [0, 0.2, 0.4, 0.6, 0.8, 1.0], "format": ".1f"}}, "y2": {"field": "hi"}}},
{"transform": [{"filter": "datum.m == 'SNAS' && isValid(datum.lo)"}], "mark": {"type": "area", "color": "#e377c2", "opacity": 0.16, "clip": true}, "encoding": {"y": {"field": "lo", "type": "quantitative", "scale": {"domain": [-0.038, 1.051], "nice": false, "zero": false}, "axis": {"title": "Sampling probability mass", "values": [0, 0.2, 0.4, 0.6, 0.8, 1.0], "format": ".1f"}}, "y2": {"field": "hi"}}},
{"transform": [{"filter": "datum.m == 'GDAS' && isValid(datum.lo)"}], "mark": {"type": "area", "color": "#8c564b", "opacity": 0.16, "clip": true}, "encoding": {"y": {"field": "lo", "type": "quantitative", "scale": {"domain": [-0.038, 1.051], "nice": false, "zero": false}, "axis": {"title": "Sampling probability mass", "values": [0, 0.2, 0.4, 0.6, 0.8, 1.0], "format": ".1f"}}, "y2": {"field": "hi"}}},
{
"mark": {"type": "line", "strokeWidth": 2, "clip": true},
"encoding": {
"y": {"field": "y", "type": "quantitative", "scale": {"domain": [-0.038, 1.051], "nice": false, "zero": false}, "axis": {"title": "Sampling probability mass", "values": [0, 0.2, 0.4, 0.6, 0.8, 1.0], "format": ".1f"}},
"color": {"field": "m", "type": "nominal", "title": null, "scale": {"domain": ["DARTS", "DARTS-", "SNAS", "GDAS", "DIRICHLET", "random baseline"], "range": ["#1f77b4", "#9467bd", "#e377c2", "#8c564b", "#bcbd22", "#000000"]}},
"strokeDash": {"field": "m", "type": "nominal", "title": null, "scale": {"domain": ["DARTS", "DARTS-", "SNAS", "GDAS", "DIRICHLET", "random baseline"], "range": [[1, 0], [1, 0], [1, 0], [1, 0], [1, 0], [2, 3.3]]}}
}
}
]
},
{
"title": {"text": "Architecture ranking performance, imagenet16-120", "frame": "group", "offset": 0.3},
"width": 440, "height": 237,
"data": {"name": "bl"},
"mark": {"type": "line", "strokeWidth": 2, "clip": true},
"encoding": {
"x": {"field": "x", "type": "quantitative", "scale": {"type": "log", "domain": [54.7, 87.6], "nice": false}, "axis": {"title": "Test err thresh", "values": [60, 70, 80], "labelExpr": "datum.value == 60 ? '6 × 10¹' : datum.value == 70 ? '7 × 10¹' : '8 × 10¹'", "tickSize": 3, "labelPadding": 13.8, "titlePadding": 5.9}},
"y": {"field": "y", "type": "quantitative", "scale": {"domain": [-0.043, 1.004], "nice": false, "zero": false}, "axis": {"title": "Top arch ID rate", "values": [0, 0.2, 0.4, 0.6, 0.8, 1.0], "format": ".1f"}},
"color": {"field": "m", "type": "nominal", "title": null, "scale": {"domain": ["DARTS", "DARTS-", "SNAS", "GDAS", "DIRICHLET", "random baseline"], "range": ["#1f77b4", "#9467bd", "#e377c2", "#8c564b", "#bcbd22", "#000000"]}},
"strokeDash": {"field": "m", "type": "nominal", "title": null, "scale": {"domain": ["DARTS", "DARTS-", "SNAS", "GDAS", "DIRICHLET", "random baseline"], "range": [[1, 0], [1, 0], [1, 0], [1, 0], [1, 0], [2, 3.3]]}}
}
},
{
"title": {"text": "Sampling probability distribution, imagenet16-120", "frame": "group", "offset": 6},
"width": 440, "height": 237,
"data": {"name": "br"},
"encoding": {
"x": {"field": "x", "type": "quantitative", "scale": {"type": "log", "domain": [54.7, 87.6], "nice": false}, "axis": {"title": "Test err thresh", "values": [60, 70, 80], "labelExpr": "datum.value == 60 ? '6 × 10¹' : datum.value == 70 ? '7 × 10¹' : '8 × 10¹'", "tickSize": 3, "labelPadding": 13.8, "titlePadding": 5.9}}
},
"layer": [
{"transform": [{"filter": "datum.m == 'DARTS' && isValid(datum.lo)"}], "mark": {"type": "area", "color": "#1f77b4", "opacity": 0.16, "clip": true}, "encoding": {"y": {"field": "lo", "type": "quantitative", "scale": {"domain": [-0.045, 1.053], "nice": false, "zero": false}, "axis": {"title": "Sampling probability mass", "values": [0, 0.2, 0.4, 0.6, 0.8, 1.0], "format": ".1f"}}, "y2": {"field": "hi"}}},
{
"mark": {"type": "line", "strokeWidth": 2, "clip": true},
"encoding": {
"y": {"field": "y", "type": "quantitative", "scale": {"domain": [-0.045, 1.053], "nice": false, "zero": false}, "axis": {"title": "Sampling probability mass", "values": [0, 0.2, 0.4, 0.6, 0.8, 1.0], "format": ".1f"}},
"color": {"field": "m", "type": "nominal", "title": null, "scale": {"domain": ["DARTS", "DARTS-", "SNAS", "GDAS", "DIRICHLET", "random baseline"], "range": ["#1f77b4", "#9467bd", "#e377c2", "#8c564b", "#bcbd22", "#000000"]}},
"strokeDash": {"field": "m", "type": "nominal", "title": null, "scale": {"domain": ["DARTS", "DARTS-", "SNAS", "GDAS", "DIRICHLET", "random baseline"], "range": [[1, 0], [1, 0], [1, 0], [1, 0], [1, 0], [2, 3.3]]}}
}
}
]
}
],
"config": {
"font": "DejaVu Sans",
"view": {"stroke": "#000000", "strokeWidth": 1},
"axis": {"domain": false, "grid": false, "labelFont": "DejaVu Sans", "labelFontSize": 13.3, "labelColor": "#000000", "titleFont": "DejaVu Sans", "titleFontSize": 15.7, "titleFontWeight": "normal", "titleColor": "#000000", "tickColor": "#000000", "tickSize": 5, "labelPadding": 8},
"axisY": {"titlePadding": 13},
"axisX": {"labelFlush": false, "labelOverlap": false},
"title": {"font": "DejaVu Sans", "fontSize": 19.2, "fontWeight": "normal", "color": "#000000", "baseline": "alphabetic", "frame": "group"},
"legend": {"orient": "bottom-right", "offset": 8.5, "symbolType": "stroke", "symbolSize": 784, "symbolStrokeWidth": 2, "labelFont": "DejaVu Sans", "labelFontSize": 16, "labelColor": "#000000", "labelOffset": 22, "labelLimit": 0, "fillColor": "rgba(255,255,255,0.8)", "strokeColor": "#cccccc", "cornerRadius": 3, "padding": 3, "rowPadding": 1.3}
}
}
